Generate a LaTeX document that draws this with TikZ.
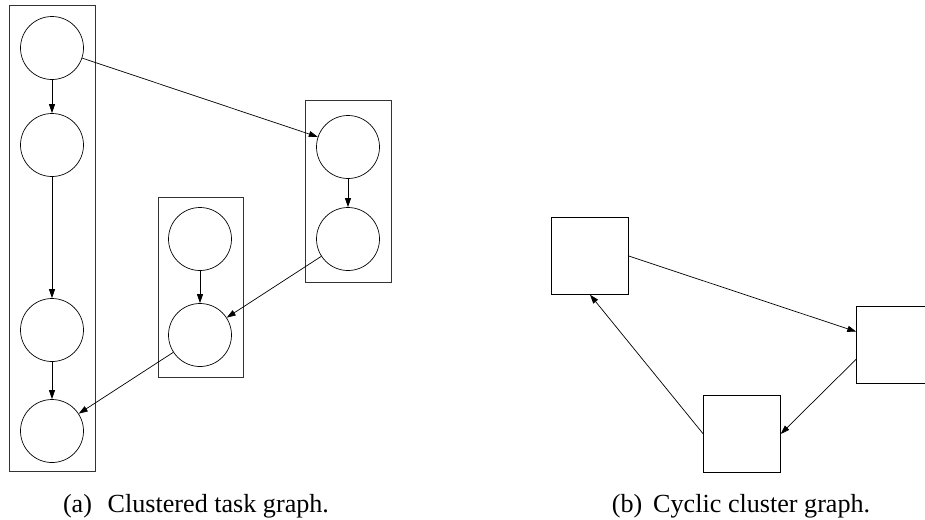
\documentclass[tikz,border=0pt]{standalone}
\usepackage{fontspec}
\setmainfont{Liberation Serif}
\usetikzlibrary{arrows.meta}

\begin{document}
\begin{tikzpicture}
[
  x=0.03cm,
  y=-0.03cm,
  cluster/.style={draw,line width=0.7pt,black!80},
  task/.style={draw,circle,line width=0.6pt,inner sep=0pt,minimum size=1.89cm},
  clnode/.style={draw,rectangle,line width=0.6pt,inner sep=0pt,minimum size=2.3cm},
  edge/.style={-{Triangle[length=0.27cm,width=0.18cm]},line width=0.6pt},
  caption/.style={font=\fontsize{22.3}{26}\selectfont,anchor=base,inner sep=0pt}
]
\useasboundingbox (0,0) rectangle (925,519);

% Clusters
\draw[cluster] (9,5) rectangle (95,471);
\draw[cluster] (158,197) rectangle (243,377);
\draw[cluster] (305,100) rectangle (391,282);

% Task nodes
\node[task] (a1) at (52,48) {};
\node[task] (a2) at (52,145) {};
\node[task] (a3) at (52,330) {};
\node[task] (a4) at (52,431) {};
\node[task] (b1) at (200,239) {};
\node[task] (b2) at (200,335) {};
\node[task] (c1) at (348,147) {};
\node[task] (c2) at (348,239) {};

% Task edges
\draw[edge] (a1) -- (a2);
\draw[edge] (a2) -- (a3);
\draw[edge] (a3) -- (a4);
\draw[edge] (b1) -- (b2);
\draw[edge] (c1) -- (c2);
\draw[edge] (a1) -- (c1);
\draw[edge] (c2) -- (b2);
\draw[edge] (b2) -- (a4);

% Cluster graph
\begin{scope}
\clip (0,0) rectangle (925,519);
\node[clnode] (s1) at (590,256) {};
\node[clnode] (s2) at (895,345) {};
\node[clnode] (s3) at (742,434) {};
\draw[edge] (s1.east) -- (s2.161);
\draw[edge] (s2.200) -- (s3.east);
\draw[edge] (s3.west) -- (s1.south);
\end{scope}

% Captions
\node[caption] (capa) at (196,512) {(a)\hspace{0.6em}Clustered task graph.};
\node[caption] (capb) at (741,512) {(b)\hspace{0.42em}Cyclic cluster graph.};

\end{tikzpicture}
\end{document}
